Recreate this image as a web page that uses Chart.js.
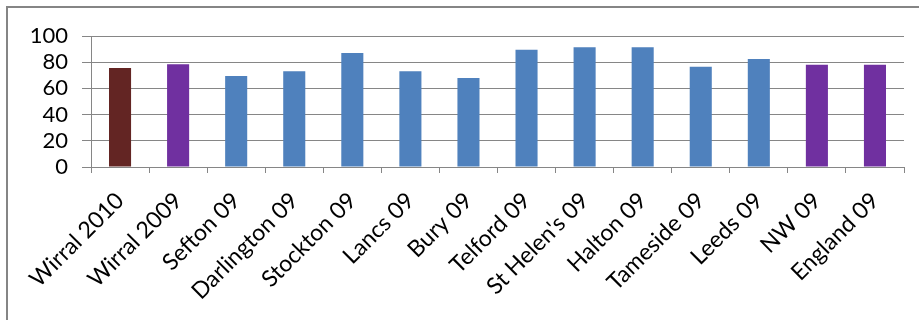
<!DOCTYPE html>
<html>
<head>
  <meta charset="utf-8">
  <title>Scores by area</title>
  <script src="https://cdn.jsdelivr.net/npm/chart.js@4.4.1/dist/chart.umd.min.js"></script>
  <style>
    body { margin: 0; background: #fff; }
    #wrap { position: relative; width: 919px; height: 320px; }
    #frame {
      position: absolute; left: 6px; top: 6px; right: -10px; bottom: -10px;
      border-left: 2px solid #858585; border-top: 2px solid #858585;
    }
  </style>
</head>
<body>
  <div id="wrap">
    <div id="frame"></div>
    <canvas id="myChart"></canvas>
  </div>
  <script type="text/javascript">
    var areas = [
      "Wirral 2010", "Wirral 2009", "Sefton 09", "Darlington 09", "Stockton 09",
      "Lancs 09", "Bury 09", "Telford 09", "St Helen's 09", "Halton 09",
      "Tameside 09", "Leeds 09", "NW 09", "England 09"
    ];
    var scores = [75.5, 78.5, 69.5, 73, 87, 73, 68, 89.5, 91.5, 91.5, 76.5, 82.5, 78, 78];
    var yTicks = [0, 20, 40, 60, 80, 100];

    // Wirral this year, Wirral last year / regional & national, other areas
    var RED = "#632523", PURPLE = "#7030a0", BLUE = "#4f81bd";
    var barColors = areas.map(function(name, i) {
      if (i === 0) return RED;
      if (name === "Wirral 2009" || name === "NW 09" || name === "England 09") return PURPLE;
      return BLUE;
    });

    var ctx = document.getElementById("myChart");
    var myBarChart = new Chart(ctx, {
      type: 'bar',
      data: {
        labels: areas,
        datasets: [{
          data: scores,
          backgroundColor: barColors,
          borderWidth: 0,
          categoryPercentage: 1.0,
          barPercentage: 0.38
        }]
      },
      options: {
        responsive: true,
        maintainAspectRatio: false,
        animation: false,
        layout: { padding: { left: 0, right: 15, top: 36, bottom: 0 } },
        plugins: { legend: { display: false }, tooltip: { enabled: false } },
        scales: {
          x: {
            afterFit: function(scale) { scale.height = 153; },
            border: { color: '#868686', width: 1 },
            grid: { drawOnChartArea: false, drawTicks: true, tickLength: 6, offset: true, color: '#868686' },
            ticks: {
              color: '#000',
              font: { family: 'Lato', size: 23 },
              minRotation: 45,
              maxRotation: 45,
              autoSkip: false,
              padding: 14
            }
          },
          y: {
            min: 0,
            max: 100,
            afterFit: function(scale) { scale.width = 91; },
            afterBuildTicks: function(scale) {
              scale.ticks = yTicks.map(function(v) { return { value: v }; });
            },
            border: { color: '#868686', width: 1 },
            grid: { color: '#868686', lineWidth: 1, tickLength: 9 },
            ticks: {
              color: '#000',
              font: { family: 'Lato', size: 22 },
              autoSkip: false,
              padding: 14
            }
          }
        }
      }
    });
  </script>
</body>
</html>
